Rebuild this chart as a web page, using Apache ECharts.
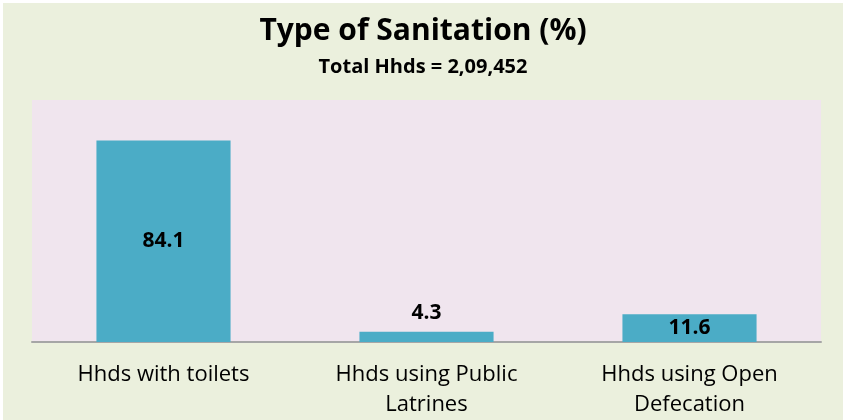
<!DOCTYPE html>
<html>
<head>
<meta charset="utf-8">
<script src="https://cdn.jsdelivr.net/npm/echarts@6/dist/echarts.min.js"></script>
<style>
  html, body { margin: 0; padding: 0; background: #ffffff; }
  #chart { position: absolute; left: 3px; top: 3px; width: 840px; height: 417px; }
</style>
</head>
<body>
<div id="chart"></div>
<script>
// Share of households by type of sanitation (%)
const categories = ['Hhds with toilets', 'Hhds using Public\nLatrines', 'Hhds using Open\nDefecation'];
const shares = [84.1, 4.3, 11.6];
const labelPositions = ['inside', 'top', 'inside'];

const chart = echarts.init(document.getElementById('chart'), null, { renderer: 'canvas' });

chart.setOption({
  backgroundColor: '#EBF0DD',
  animation: false,
  title: {
    text: 'Type of Sanitation (%)',
    subtext: 'Total Hhds = 2,09,452',
    left: 'center',
    top: 8,
    itemGap: 11,
    textStyle: { fontFamily: 'Open Sans', fontWeight: 'bold', fontSize: 30, color: '#000000' },
    subtextStyle: { fontFamily: 'Open Sans', fontWeight: 'bold', fontSize: 20, color: '#000000' }
  },
  grid: {
    show: true,
    left: 29,
    right: 22,
    top: 97,
    bottom: 77,
    backgroundColor: '#F0E5EE',
    borderWidth: 0,
    containLabel: false
  },
  xAxis: {
    type: 'category',
    data: categories,
    axisLine: { show: true, lineStyle: { color: '#A6A6A6', width: 2 } },
    axisTick: { show: false },
    axisLabel: {
      fontFamily: 'Open Sans',
      fontSize: 22,
      color: '#000000',
      lineHeight: 30,
      margin: 18,
      interval: 0
    }
  },
  yAxis: {
    type: 'value',
    min: 0,
    max: 101,
    show: false,
    splitLine: { show: false }
  },
  series: [{
    type: 'bar',
    data: shares.map((v, i) => ({
      value: v,
      label: { position: labelPositions[i] }
    })),
    barCategoryGap: '49%',
    itemStyle: { color: '#4BACC6' },
    label: {
      show: true,
      fontFamily: 'Open Sans',
      fontWeight: 'bold',
      fontSize: 21,
      color: '#000000',
      distance: 8
    }
  }]
});
</script>
</body>
</html>
